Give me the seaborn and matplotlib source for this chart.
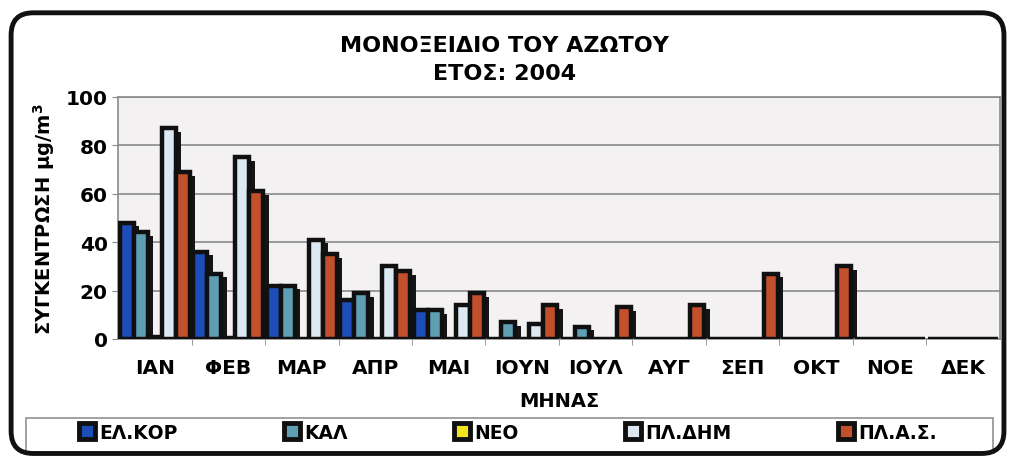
import numpy as np
import pandas as pd
import matplotlib
matplotlib.use('Agg')
import matplotlib.pyplot as plt
import seaborn as sns
from matplotlib.patches import Rectangle, FancyBboxPatch
from matplotlib.lines import Line2D

months = ['ΙΑΝ', 'ΦΕΒ', 'ΜΑΡ', 'ΑΠΡ', 'ΜΑΙ', 'ΙΟΥΝ', 'ΙΟΥΛ', 'ΑΥΓ', 'ΣΕΠ', 'ΟΚΤ', 'ΝΟΕ', 'ΔΕΚ']
stations = ['ΕΛ.ΚΟΡ', 'ΚΑΛ', 'ΝΕΟ', 'ΠΛ.ΔΗΜ', 'ΠΛ.Α.Σ.']
el_kor = [48, 36, 22, 16, 12, 0, 0, 0, 0, 0, 0, 0]
kal = [44, 27, 22, 19, 12, 7, 5, 0, 0, 0, 0, 0]
neo = [1, 0.5, 0, 0, 0, 0, 0, 0, 0, 0, 0, 0]
pl_dhm = [87, 75, 41, 30, 14, 6, 0, 0, 0, 0, 0, 0]
pl_as = [69, 61, 35, 28, 19, 14, 13, 14, 27, 30, 0, 0]
colors = ['#1d4db8', '#5f9fb4', '#f2e41c', '#dce9f2', '#c2502c']

plt.rcParams['font.family'] = ['DejaVu Sans']

df = pd.DataFrame({
    'month': np.tile(months, 5),
    'station': np.repeat(stations, 12),
    'value': el_kor + kal + neo + pl_dhm + pl_as,
})

fig = plt.figure(figsize=(10.09, 4.6), dpi=100)
fig.patch.set_facecolor('white')
ax = fig.add_axes([0.117, 0.261, 0.874, 0.526])
ax.set_facecolor('#f3f1f1')

sns.barplot(data=df, x='month', y='value', hue='station', order=months, hue_order=stations,
            palette=colors, saturation=1, width=0.95, edgecolor='#101010', linewidth=3.2,
            ax=ax, legend=False, zorder=3)

# dark shadow behind each bar for the 3D look
for p in list(ax.patches):
    h = p.get_height()
    if h <= 0.3:
        continue
    w = p.get_width()
    ax.add_patch(Rectangle((p.get_x() + w * 0.4, 0), w, max(h - 1.5, 0.5),
                           facecolor='#151515', edgecolor='none', zorder=2))

ax.set_ylim(0, 100)
ax.set_xlim(-0.5, 11.5)
ax.set_yticks(range(0, 101, 20))
ax.yaxis.grid(True, color='#8a8a8a', linewidth=1.2, zorder=0)
ax.set_axisbelow(True)
for s in ax.spines.values():
    s.set_color('#8a8a8a')
    s.set_linewidth(1.2)
ax.tick_params(axis='x', length=0, pad=14)
ax.set_xticks(np.arange(0.5, 11, 1), minor=True)
ax.tick_params(axis='x', which='minor', length=4, color='#8a8a8a')
ax.tick_params(axis='y', length=4, color='#8a8a8a')
for lbl in ax.get_xticklabels() + ax.get_yticklabels():
    lbl.set_fontsize(14.5)
    lbl.set_fontweight('bold')

ax.set_xlabel('ΜΗΝΑΣ', fontsize=14, fontweight='bold', labelpad=10)
ax.set_ylabel('ΣΥΓΚΕΝΤΡΩΣΗ μg/m$^\\mathbf{3}$', fontsize=14, fontweight='bold', labelpad=6)

fig.text(0.5, 0.900, 'ΜΟΝΟΞΕΙΔΙΟ ΤΟΥ ΑΖΩΤΟΥ', ha='center', va='center', fontsize=16, fontweight='bold')
fig.text(0.5, 0.840, 'ΕΤΟΣ: 2004', ha='center', va='center', fontsize=16, fontweight='bold')

handles = [Line2D([], [], marker='s', linestyle='none', markersize=12, markerfacecolor=c,
                  markeredgecolor='#101010', markeredgewidth=3.5) for c in colors]
leg = fig.legend(handles, stations, loc='center', bbox_to_anchor=(0.503, 0.058), ncol=5,
                 frameon=False, columnspacing=5.6, handletextpad=0.15,
                 handlelength=1.0, prop={'size': 13.5, 'weight': 'bold'})
fig.patches.append(Rectangle((0.026, 0.012), 0.958, 0.078, transform=fig.transFigure,
                             facecolor='none', edgecolor='#9a9a9a', linewidth=1.3))

frame = FancyBboxPatch((0.011, 0.012), 0.984, 0.958, boxstyle='round,pad=0,rounding_size=0.022',
                       transform=fig.transFigure, facecolor='none', edgecolor='#111111',
                       linewidth=3.5, mutation_aspect=2.2)
fig.patches.append(frame)

fig.savefig('out.png', dpi=100, facecolor='white')
